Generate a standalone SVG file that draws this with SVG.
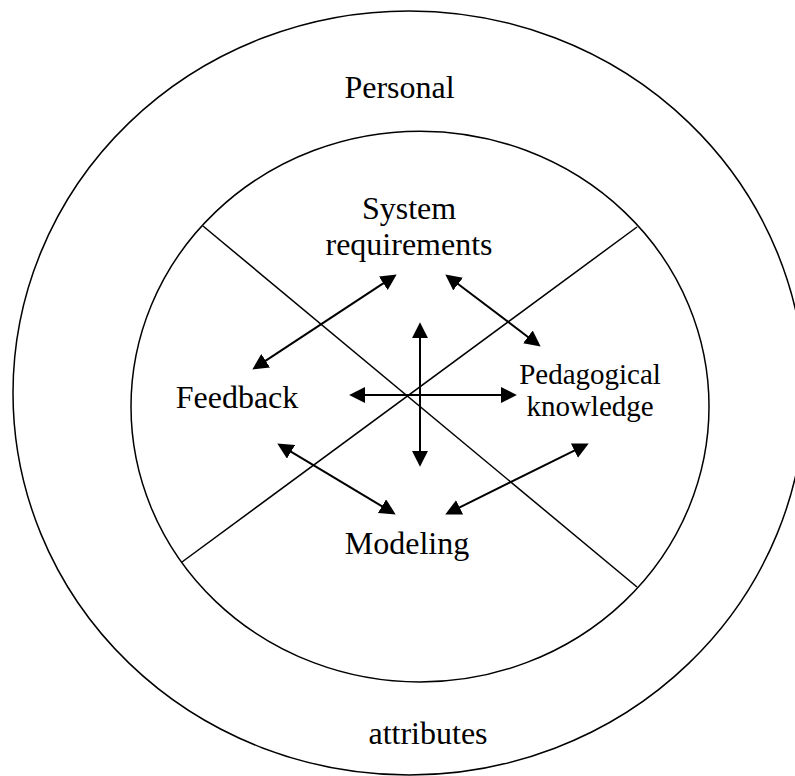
<svg xmlns="http://www.w3.org/2000/svg" width="795" height="776" viewBox="0 0 795 776">
<style>
.ring{fill:none;stroke:#000;stroke-width:1.5}
.div{fill:none;stroke:#000;stroke-width:1.5}
.arr{fill:none;stroke:#000;stroke-width:2;marker-start:url(#ah);marker-end:url(#ah)}
.lbl{font-family:"Liberation Serif","Times New Roman",serif;font-size:32px;fill:#000;text-anchor:middle}
.sm{font-size:29px}
</style>
<defs>
<marker id="ah" markerUnits="userSpaceOnUse" markerWidth="16" markerHeight="16" viewBox="0 0 15 15" refX="2" refY="7.5" orient="auto-start-reverse">
<path d="M0,0 L15,7.5 L0,15 z" fill="#000"/>
</marker>
</defs>
<rect width="795" height="776" fill="#fff"/>
<g id="rings">
<ellipse class="ring" cx="409" cy="393" rx="396" ry="382"/>
<ellipse class="ring" cx="420" cy="406.6" rx="289" ry="275.4"/>
</g>
<g id="dividers">
<line class="div" x1="203" y1="226" x2="637" y2="587"/>
<line class="div" x1="637" y1="227" x2="182" y2="562"/>
</g>
<g id="connectors">
<line class="arr" x1="385.1" y1="282.1" x2="263.9" y2="361.9"/>
<line class="arr" x1="456.4" y1="282.8" x2="529.6" y2="338.2"/>
<line class="arr" x1="420" y1="336" x2="420" y2="453"/>
<line class="arr" x1="363" y1="395" x2="503" y2="395"/>
<line class="arr" x1="289.2" y1="450.7" x2="383.8" y2="507.3"/>
<line class="arr" x1="576.3" y1="449.7" x2="457.7" y2="508.3"/>
</g>
<g id="personal"><text class="lbl" x="399.5" y="98">Personal</text></g>
<g id="attributes"><text class="lbl" x="428" y="744">attributes</text></g>
<g id="system-requirements"><text class="lbl" x="409" y="219">System</text><text class="lbl" x="409" y="255">requirements</text></g>
<g id="feedback"><text class="lbl" x="237" y="408">Feedback</text></g>
<g id="pedagogical-knowledge"><text class="lbl sm" x="590" y="384">Pedagogical</text><text class="lbl sm" x="590" y="416">knowledge</text></g>
<g id="modeling"><text class="lbl" x="407" y="554">Modeling</text></g>
</svg>
